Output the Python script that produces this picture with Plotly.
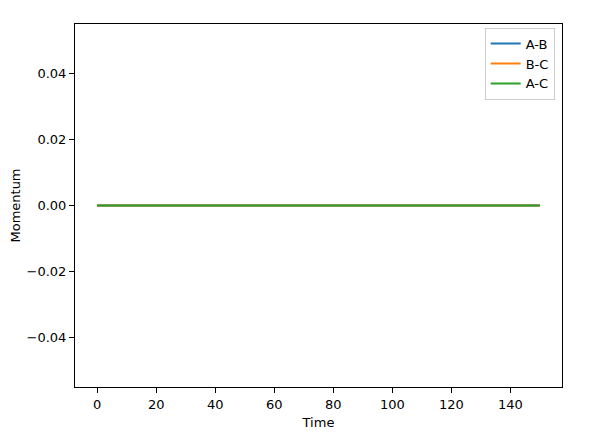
import plotly.graph_objects as go

time = [0, 25, 50, 75, 100, 125, 150]
ab = [0, 0, 0, 0, 0, 0, 0]
bc = [0, 0, 0, 0, 0, 0, 0]
ac = [0, 0, 0, 0, 0, 0, 0]
series = [("A-B", ab, "#1f77b4"), ("B-C", bc, "#ff7f0e"), ("A-C", ac, "#2ca02c")]

fig = go.Figure()
for name, vals, col in series:
    fig.add_trace(go.Scatter(x=time, y=vals, mode="lines", name=name,
                             line=dict(color=col, width=2)))

axis_common = dict(showline=True, linecolor="black", linewidth=1, mirror=True,
                   ticks="outside", ticklen=5, tickwidth=1, tickcolor="black",
                   showgrid=False, zeroline=False, automargin=False,
                   tickfont=dict(family="DejaVu Sans", size=13, color="black"))

# page body has an 8px default margin, so the figure is shrunk by 8px
fig.update_layout(
    width=581, height=430,
    margin=dict(l=67, r=27, t=16, b=51),
    plot_bgcolor="white", paper_bgcolor="white",
    font=dict(family="DejaVu Sans", size=13, color="black"),
    xaxis=dict(range=[-7.5, 157.5], tickvals=[0, 20, 40, 60, 80, 100, 120, 140],
               title=dict(text="Time", standoff=7,
                          font=dict(family="DejaVu Sans", size=13, color="black")),
               **axis_common),
    yaxis=dict(range=[-0.055, 0.055], tickvals=[-0.04, -0.02, 0, 0.02, 0.04],
               tickformat=".2f",
               title=dict(text="Momentum", standoff=12,
                          font=dict(family="DejaVu Sans", size=13, color="black")),
               **axis_common),
    legend=dict(x=0.985, y=0.99, xanchor="right", yanchor="top",
                bgcolor="rgba(255,255,255,0.8)", bordercolor="#cccccc", borderwidth=1,
                font=dict(family="DejaVu Sans", size=13)),
    showlegend=True,
)

fig.write_html("out.html")
